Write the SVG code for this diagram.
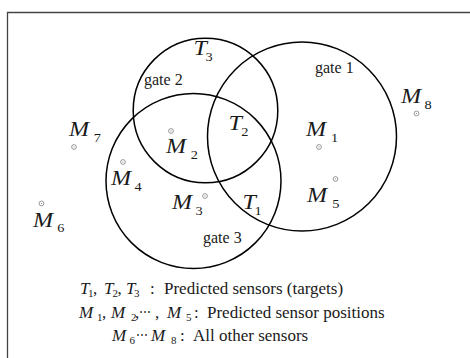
<svg xmlns="http://www.w3.org/2000/svg" width="470" height="358" viewBox="0 0 470 358">
<style>
.gate{fill:none;stroke:#000;stroke-width:1.5}
text{font-family:"Liberation Serif","Times New Roman",serif;fill:#1a1a1a}
.it{font-style:italic;font-size:21px}
.sub{font-style:normal;font-size:12.5px}
.gt{font-size:16px}
.leg{font-size:17px;font-style:normal}
.lit{font-style:italic;font-size:17px}
.lsub{font-style:normal;font-size:11px}
.dots{font-size:12px;font-style:normal}
.dot{fill:none;stroke:#808080;stroke-width:0.8}
.dc{fill:#808080}
</style>
<defs>
<g id="pt"><circle class="dot" r="2.4"/><circle class="dc" r="0.6"/></g>
</defs>
<rect x="0" y="0" width="470" height="358" fill="#fff"/>
<path d="M7.5 358 V12.5 H470" fill="none" stroke="#444" stroke-width="1.3"/>
<g id="connectors"></g>
<g id="gate2"><circle class="gate" cx="205.5" cy="110.5" r="72.3"/><text class="gt" x="144" y="85">gate 2</text></g>
<g id="gate1"><circle class="gate" cx="302" cy="136.5" r="94.5"/><text class="gt" x="315" y="73">gate 1</text></g>
<g id="gate3"><circle class="gate" cx="193.5" cy="181" r="87.5"/><text class="gt" x="203" y="243">gate 3</text></g>
<g id="T3"><text class="it" transform="translate(193.5 55) scale(1.15 1)">T<tspan class="sub" x="10.5" y="6">3</tspan></text></g>
<g id="T2"><text class="it" transform="translate(228.5 130) scale(1.15 1)">T<tspan class="sub" x="11" y="5.5">2</tspan></text></g>
<g id="T1"><text class="it" transform="translate(242.5 209) scale(1.15 1)">T<tspan class="sub" x="10.5" y="6">1</tspan></text></g>
<g id="M1"><text class="it" transform="translate(306 136) scale(1.15 1)">M<tspan class="sub" x="21.7" y="6">1</tspan></text><use href="#pt" x="319" y="147"/></g>
<g id="M2"><text class="it" transform="translate(166 153) scale(1.15 1)">M<tspan class="sub" x="21.5" y="5.5">2</tspan></text><use href="#pt" x="171" y="131"/></g>
<g id="M3"><text class="it" transform="translate(172 209) scale(1.15 1)">M<tspan class="sub" x="20.5" y="6">3</tspan></text><use href="#pt" x="205" y="196"/></g>
<g id="M4"><text class="it" transform="translate(111 185) scale(1.15 1)">M<tspan class="sub" x="20.5" y="6">4</tspan></text><use href="#pt" x="123" y="162"/></g>
<g id="M5"><text class="it" transform="translate(307 202) scale(1.15 1)">M<tspan class="sub" x="22" y="6">5</tspan></text><use href="#pt" x="335.5" y="179"/></g>
<g id="M6"><text class="it" transform="translate(33 227) scale(1.15 1)">M<tspan class="sub" x="21" y="4.5">6</tspan></text><use href="#pt" x="41.5" y="203.5"/></g>
<g id="M7"><text class="it" transform="translate(69 136) scale(1.15 1)">M<tspan class="sub" x="21.5" y="6">7</tspan></text><use href="#pt" x="74" y="147"/></g>
<g id="M8"><text class="it" transform="translate(401 103) scale(1.15 1)">M<tspan class="sub" x="20.5" y="6">8</tspan></text><use href="#pt" x="416.5" y="113.5"/></g>
<g id="legend">
<text class="lit" x="80" y="294">T<tspan class="lsub" x="88" y="297">1</tspan><tspan class="leg" x="93" y="294">,</tspan><tspan x="104" y="294">T</tspan><tspan class="lsub" x="112.5" y="297">2</tspan><tspan class="leg" x="117.5" y="294">,</tspan><tspan x="126" y="294">T</tspan><tspan class="lsub" x="134" y="297">3</tspan><tspan class="leg" x="150" y="294">:</tspan><tspan class="leg" x="164" y="294">Predicted sensors (targets)</tspan></text>
<text class="lit" x="79" y="318">M<tspan class="lsub" x="97" y="321">1</tspan><tspan class="leg" x="102" y="318">,</tspan><tspan x="111" y="318">M</tspan><tspan class="lsub" x="131" y="321">2</tspan><tspan class="leg" x="135" y="318">,</tspan><tspan class="dots" x="139" y="316">⋯</tspan><tspan class="leg" x="155" y="318">,</tspan><tspan x="167" y="318">M</tspan><tspan class="lsub" x="186" y="321">5</tspan><tspan class="leg" x="194" y="318">:</tspan><tspan class="leg" x="207" y="318">Predicted sensor positions</tspan></text>
<text class="lit" x="112" y="341">M<tspan class="lsub" x="129.5" y="344">6</tspan><tspan class="dots" x="136" y="339">⋯</tspan><tspan x="151" y="341">M</tspan><tspan class="lsub" x="171" y="344">8</tspan><tspan class="leg" x="180" y="341">:</tspan><tspan class="leg" x="193" y="341">All other sensors</tspan></text>
</g>
</svg>
